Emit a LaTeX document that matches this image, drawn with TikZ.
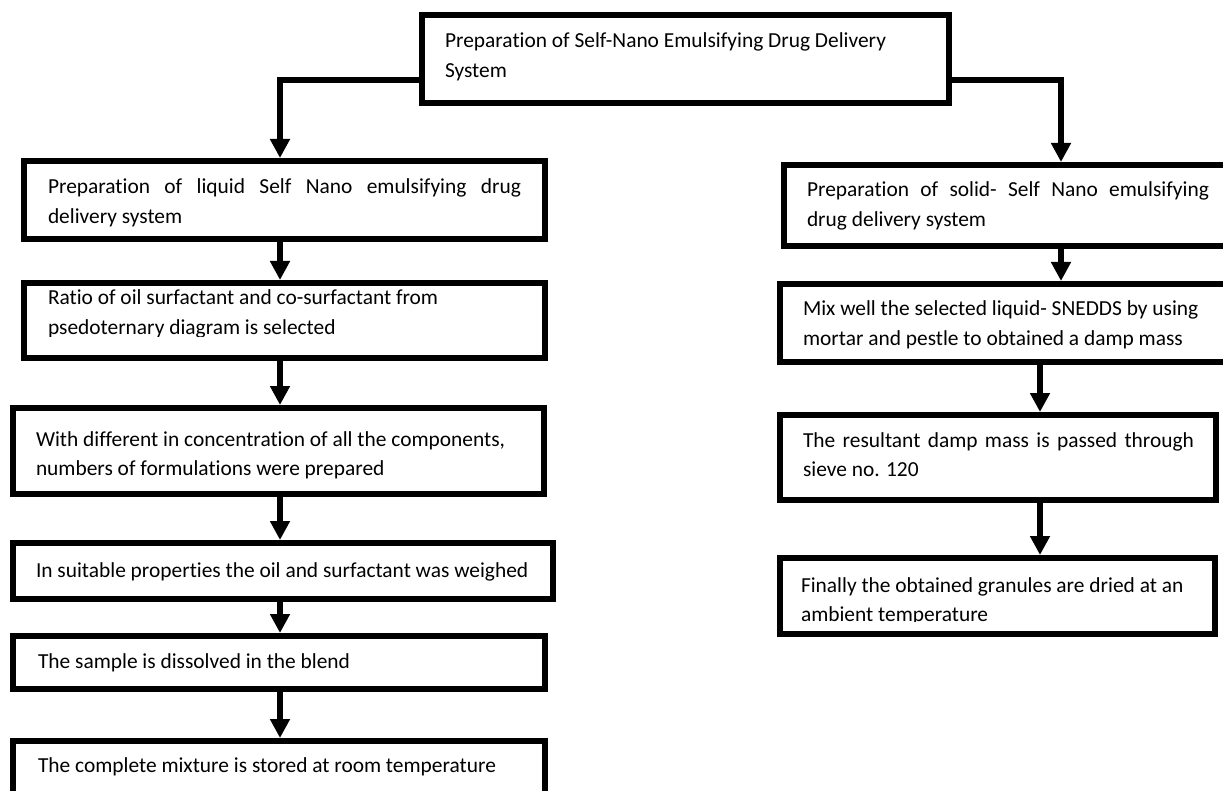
\documentclass[tikz,border=0pt]{standalone}
\usepackage{fontspec}
\setmainfont{Carlito}[Ligatures=NoCommon]
\usetikzlibrary{arrows.meta,calc}
\begin{document}
\begin{tikzpicture}[x=1pt,y=-1pt,
  box/.style={draw=black,line width=6pt,rectangle,inner sep=0pt,outer sep=0pt},
  txt/.style={anchor=base west,inner sep=0pt,outer sep=0pt,font=\fontsize{21.4pt}{29.5pt}\selectfont,align=justify,text width=520pt},
  conn/.style={line width=6pt},
  arr/.style={conn,-{Triangle[width=19pt,length=19pt]}}
]
\useasboundingbox (0,0) rectangle (1223,791);
\clip (0,0) rectangle (1223,791);
\fill[white] (0,0) rectangle (1223,791);
% boxes
\node[box,minimum width=527pt,minimum height=88pt] (T)  at (685.5,59) {};
\node[box,minimum width=521pt,minimum height=78pt] (L1) at (284.5,200) {};
\node[box,minimum width=521pt,minimum height=75pt] (L2) at (284.5,320.5) {};
\node[box,minimum width=531pt,minimum height=86pt] (L3) at (278.5,451) {};
\node[box,minimum width=540pt,minimum height=56pt] (L4) at (283,571) {};
\node[box,minimum width=532pt,minimum height=53pt] (L5) at (279,662.5) {};
\node[box,minimum width=532pt,minimum height=66pt] (L6) at (279,774) {};
\node[box,minimum width=453pt,minimum height=81pt] (R1) at (1010.5,205.5) {};
\node[box,minimum width=457pt,minimum height=78pt] (R2) at (1008.5,323) {};
\node[box,minimum width=436pt,minimum height=85pt] (R3) at (998,457.5) {};
\node[box,minimum width=435pt,minimum height=76pt] (R4) at (997.5,596) {};
% texts
\node[txt] (tT) at (445,48) {Preparation of Self-Nano Emulsifying Drug Delivery\newline System};
\node[txt,text width=473pt] (tL1) at (48,194) {Preparation of liquid Self Nano emulsifying drug\linebreak delivery system};
\begin{scope}
\clip (24,283) rectangle (545,337);
\node[txt] (tL2) at (48,305) {Ratio of oil surfactant and co-surfactant from\newline psedoternary diagram is selected};
\end{scope}
\node[txt] (tL3) at (36,446) {With different in concentration of all the components,\newline numbers of formulations were prepared};
\node[txt] (tL4) at (36,577) {In suitable properties the oil and surfactant was weighed};
\node[txt] (tL5) at (38,668) {The sample is dissolved in the blend};
\node[txt] (tL6) at (38,772) {The complete mixture is stored at room temperature};
\node[txt,text width=402pt] (tR1) at (807,197) {Preparation of solid- Self Nano emulsifying\linebreak drug delivery system};
\node[txt,text width=420pt] (tR2) at (803,316) {Mix well the selected liquid- SNEDDS by using\newline mortar and pestle to obtained a damp mass};
\node[txt,text width=391pt] (tR3) at (803,447) {The resultant damp mass is passed through\linebreak sieve no. 120};
\begin{scope}
\clip (780,558) rectangle (1215,621);
\node[txt,text width=420pt] (tR4) at (801,592) {Finally the obtained granules are dried at an\newline ambient temperature};
\end{scope}
% connectors
\coordinate (xL) at (280,0);
\coordinate (xR) at (1061,0);
\coordinate (xR2) at (1040,0);
\draw[arr] ([yshift=23pt]T.south west) -| ([yshift=3pt]L1.north -| xL);
\draw[arr] ([yshift=23pt]T.south east) -| ([yshift=3pt]R1.north -| xR);
\draw[arr] ([yshift=-3pt]L1.south -| xL) -- ([yshift=3pt]L2.north -| xL);
\draw[arr] ([yshift=-3pt]L2.south -| xL) -- ([yshift=3pt]L3.north -| xL);
\draw[arr] ([yshift=-3pt]L3.south -| xL) -- ([yshift=3pt]L4.north -| xL);
\draw[arr] ([yshift=-3pt]L4.south -| xL) -- ([yshift=3pt]L5.north -| xL);
\draw[arr] ([yshift=-3pt]L5.south -| xL) -- ([yshift=3pt]L6.north -| xL);
\draw[arr] ([yshift=-3pt]R1.south -| xR) -- ([yshift=3pt]R2.north -| xR);
\draw[arr] ([yshift=-3pt]R2.south -| xR2) -- ([yshift=3pt]R3.north -| xR2);
\draw[arr] ([yshift=-3pt]R3.south -| xR2) -- ([yshift=3pt]R4.north -| xR2);
\end{tikzpicture}
\end{document}
